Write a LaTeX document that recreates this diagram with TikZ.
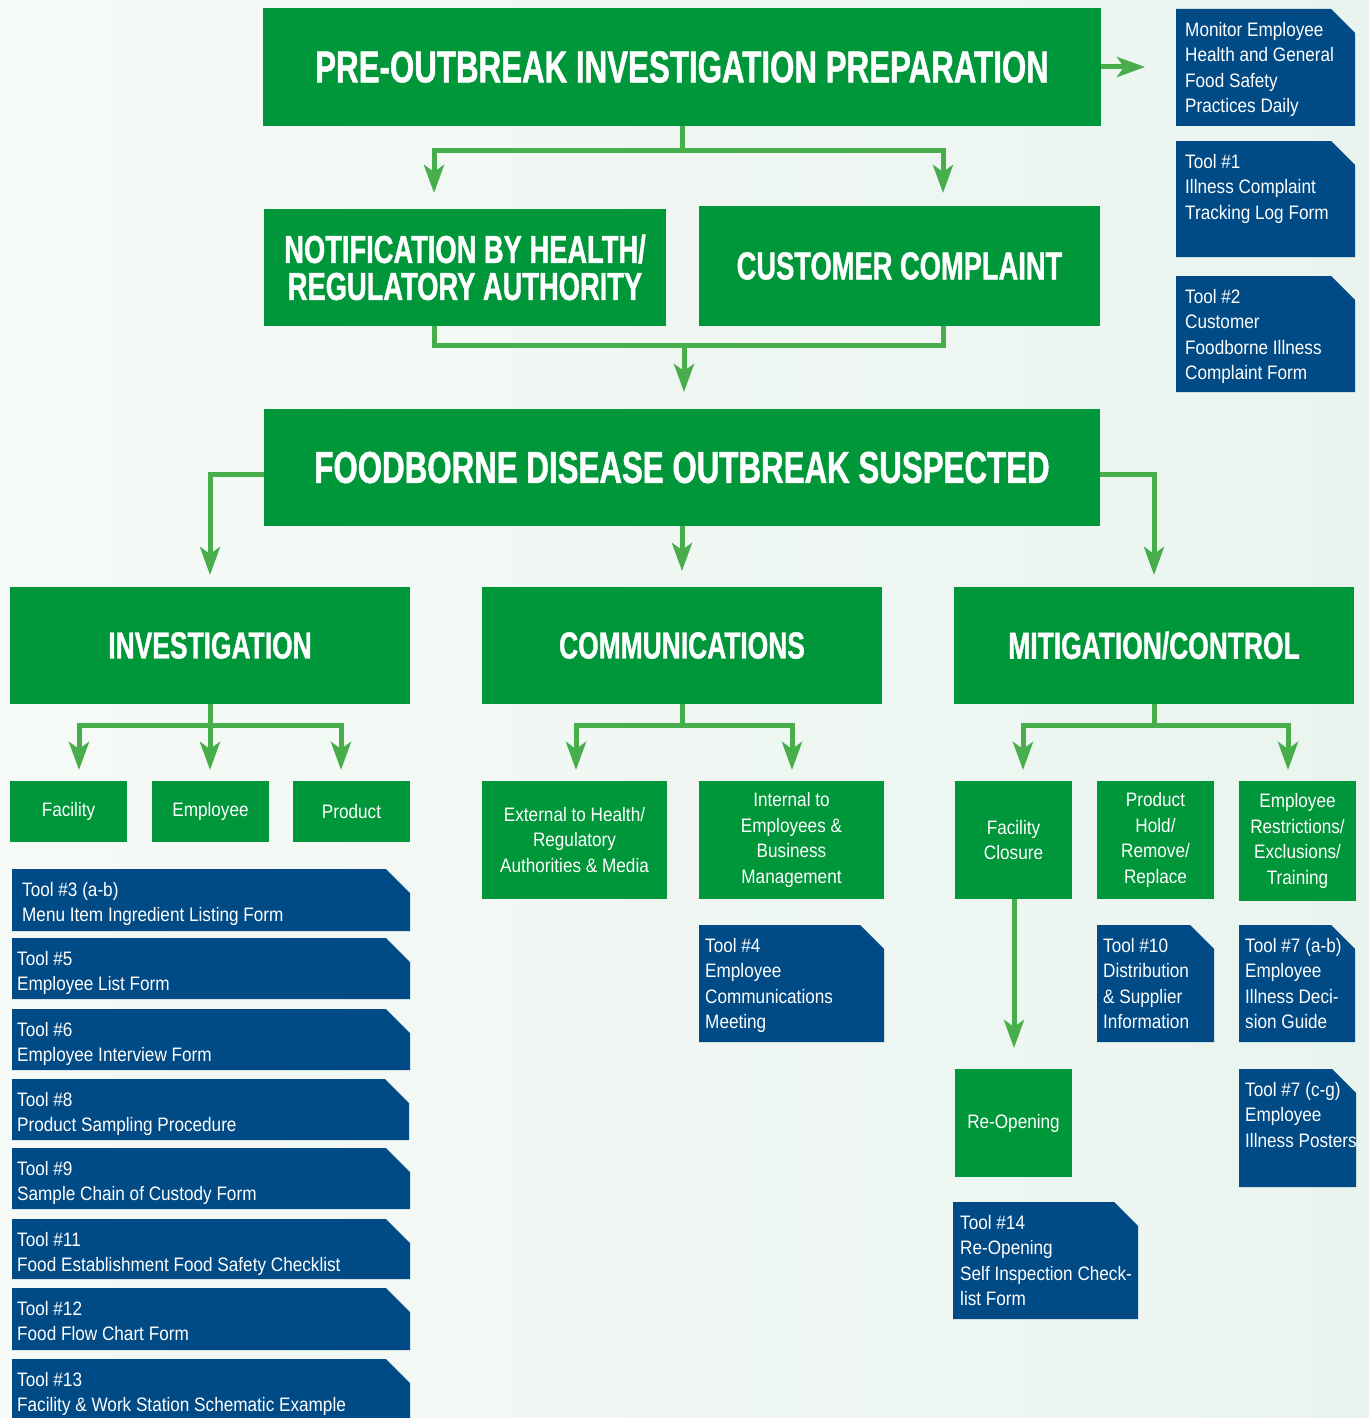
\documentclass[tikz,border=0pt]{standalone}
\usepackage{fontspec}
\setmainfont{Liberation Sans}[FakeStretch=0.88]
\newfontfamily\titlefont{Liberation Sans}[FakeStretch=0.70,FakeBold=1]
\usetikzlibrary{arrows.meta}
\definecolor{boxgreen}{HTML}{00963A}
\definecolor{arrowgreen}{HTML}{48AE4C}
\definecolor{toolblue}{HTML}{004A86}
\definecolor{bgl}{HTML}{F6FAF7}
\definecolor{bgr}{HTML}{EAF4EE}
\tikzset{
  gbox/.style={fill=boxgreen, text=white, anchor=north west, inner sep=0pt, outer sep=0pt, align=center,
    font=\fontsize{19.5}{25.5}\selectfont},
  gtitle/.style={gbox, font=\titlefont\bfseries\fontsize{44.7}{50}\selectfont},
  gsub/.style={gbox, font=\titlefont\bfseries\fontsize{39}{37}\selectfont},
  ghead/.style={gbox, font=\titlefont\bfseries\fontsize{37.7}{40}\selectfont},
  toolarea/.style={anchor=north west, inner sep=0pt, outer sep=0pt},
  tooltext/.style={anchor=north west, inner sep=0pt, align=left, text=white,
    font=\fontsize{19.5}{25.5}\selectfont},
  ln/.style={draw=arrowgreen, line width=5pt, line join=miter},
  ar/.style={ln, -{Stealth[length=28pt,width=20pt,inset=7pt]}},
}
\newcommand\toolbox[7]{%
  \node[toolarea, minimum width=#4pt, minimum height=#5pt] (#1) at (#2,#3) {};
  \fill[toolblue] (#1.south west) -- (#1.north west) -- ([xshift=-24pt]#1.north east)
     -- ([yshift=-24pt]#1.north east) -- (#1.south east) -- cycle;
  \node[tooltext] (#1t) at (#2+#6,#3+13) {#7};
}
\begin{document}
\begin{tikzpicture}[x=1pt,y=-1pt]
\shade[left color=bgl,right color=bgr] (0,0) rectangle (1369,1418);
\useasboundingbox (0,0) rectangle (1369,1418);

% main green boxes
\node[gtitle, minimum width=838pt, minimum height=118pt] (pre) at (263,8) {PRE-OUTBREAK INVESTIGATION PREPARATION};
\node[gsub, minimum width=402pt, minimum height=117pt] (notif) at (264,209) {NOTIFICATION BY HEALTH/\\REGULATORY AUTHORITY};
\node[gsub, minimum width=401pt, minimum height=120pt] (cust) at (699,206) {CUSTOMER COMPLAINT};
\node[gtitle, minimum width=836pt, minimum height=117pt] (food) at (264,409) {FOODBORNE DISEASE OUTBREAK SUSPECTED};
\node[ghead, minimum width=400pt, minimum height=117pt] (inv) at (10,587) {INVESTIGATION};
\node[ghead, minimum width=400pt, minimum height=117pt] (comm) at (482,587) {COMMUNICATIONS};
\node[ghead, minimum width=400pt, minimum height=117pt] (mit) at (954,587) {MITIGATION/CONTROL};

% small green boxes
\node[gbox, minimum width=117pt, minimum height=61pt] (fac) at (10,781) {Facility};
\node[gbox, minimum width=117pt, minimum height=61pt] (emp) at (152,781) {Employee};
\node[gbox, minimum width=117pt, minimum height=61pt] (prod) at (293,781) {Product};
\node[gbox, minimum width=185pt, minimum height=118pt] (ext) at (482,781) {External to Health/\\Regulatory\\Authorities \& Media};
\node[gbox, minimum width=185pt, minimum height=118pt] (int) at (699,781) {Internal to\\Employees \&\\Business\\Management};
\node[gbox, minimum width=117pt, minimum height=118pt] (fc) at (955,781) {Facility\\Closure};
\node[gbox, minimum width=117pt, minimum height=118pt] (ph) at (1097,781) {Product\\Hold/\\Remove/\\Replace};
\node[gbox, minimum width=117pt, minimum height=120pt] (er) at (1239,781) {Employee\\Restrictions/\\Exclusions/\\Training};
\node[gbox, minimum width=117pt, minimum height=108pt] (reo) at (955,1069) {Re-Opening};

% tool boxes
\toolbox{mon}{1176}{9}{179}{117}{9}{Monitor Employee\\Health and General\\Food Safety\\Practices Daily}
\toolbox{tA}{1176}{141}{179}{116}{9}{Tool \#1\\Illness Complaint\\Tracking Log Form}
\toolbox{tB}{1176}{276}{179}{116}{9}{Tool \#2\\Customer\\Foodborne Illness\\Complaint Form}
\toolbox{tC}{12}{869}{398}{62}{10}{Tool \#3 (a-b)\\Menu Item Ingredient Listing Form}
\toolbox{tE}{12}{938}{398}{61}{5}{Tool \#5\\Employee List Form}
\toolbox{tF}{12}{1009}{398}{61}{5}{Tool \#6\\Employee Interview Form}
\toolbox{tH}{12}{1079}{397}{61}{5}{Tool \#8\\Product Sampling Procedure}
\toolbox{tI}{12}{1148}{398}{61}{5}{Tool \#9\\Sample Chain of Custody Form}
\toolbox{tK}{12}{1219}{398}{60}{5}{Tool \#11\\Food Establishment Food Safety Checklist}
\toolbox{tL}{12}{1288}{398}{62}{5}{Tool \#12\\Food Flow Chart Form}
\toolbox{tM}{12}{1359}{398}{59}{5}{Tool \#13\\Facility \& Work Station Schematic Example}
\toolbox{tD}{699}{925}{185}{117}{6}{Tool \#4\\Employee\\Communications\\Meeting}
\toolbox{tJ}{1097}{925}{117}{117}{6}{Tool \#10\\Distribution\\\& Supplier\\Information}
\toolbox{tG}{1239}{925}{116}{117}{6}{Tool \#7 (a-b)\\Employee\\Illness Deci-\\sion Guide}
\toolbox{tG2}{1239}{1069}{117}{118}{6}{Tool \#7 (c-g)\\Employee\\Illness Posters}
\toolbox{tN}{953}{1202}{185}{117}{7}{Tool \#14\\Re-Opening\\Self Inspection Check-\\list Form}

% junctions and arrow ends
\coordinate (t0) at (1145,67);
\coordinate (j1) at (682,150);
\coordinate (t1) at (434,193);
\coordinate (t2) at (943,193);
\coordinate (j2) at (684,345);
\coordinate (t3) at (684,392);
\coordinate (t4) at (210,575);
\coordinate (t5) at (682,571);
\coordinate (t6) at (1154,575);
\coordinate (j3) at (210,725);
\coordinate (t7) at (79,770);
\coordinate (t8) at (210,770);
\coordinate (t9) at (341,770);
\coordinate (j4) at (682,725);
\coordinate (t10) at (576,770);
\coordinate (t11) at (792,770);
\coordinate (j5) at (1154,725);
\coordinate (t12) at (1023,770);
\coordinate (t13) at (1288,770);
\coordinate (t14) at (1014,1048);

% connectors
\draw[ar] (pre.east) -- (t0);
\draw[ln] (pre.south) -- (j1);
\draw[ar] (j1) -| (t1);
\draw[ar] (j1) -| (t2);
\draw[ln] (notif.south -| t1) -- (j2 -| t1) -- (j2 -| t2) -- (cust.south -| t2);
\draw[ar] (j2) -- (t3);
\draw[ar] ([yshift=-7pt]food.west) -| (t4);
\draw[ar] (food.south) -- (t5);
\draw[ar] ([yshift=-7pt]food.east) -| (t6);
\draw[ln] (inv.south) -- (j3);
\draw[ar] (j3) -| (t7);
\draw[ar] (j3) -- (t8);
\draw[ar] (j3) -| (t9);
\draw[ln] (comm.south) -- (j4);
\draw[ar] (j4) -| (t10);
\draw[ar] (j4) -| (t11);
\draw[ln] (mit.south) -- (j5);
\draw[ar] (j5) -| (t12);
\draw[ar] (j5) -| (t13);
\draw[ar] (fc.south -| t14) -- (t14);
\end{tikzpicture}
\end{document}
